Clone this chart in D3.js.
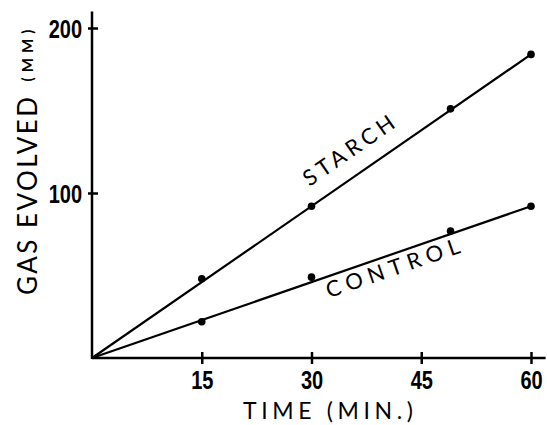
<!DOCTYPE html>
<html>
<head>
<meta charset="utf-8">
<script src="https://cdn.jsdelivr.net/npm/d3@7"></script>
<style>
  body { margin: 0; background: #fff; }
  svg { display: block; }
</style>
</head>
<body>
<div id="chart"></div>
<script>
// data
var times = [15, 30, 49, 60];
var starch = [48, 92, 151, 184];
var control = [22, 49, 77, 92];

// fitted lines, from origin to last reading
var starchFit = [[0, 0], [60, 184]];
var controlFit = [[0, 0], [60, 92]];

var xTicks = [15, 30, 45, 60];
var yTicks = [100, 200];

var svgWidth = 547;
var svgHeight = 425;

var svg = d3.select("#chart")
  .append("svg")
  .attr("width", svgWidth)
  .attr("height", svgHeight);

var xScale = d3.scaleLinear().domain([0, 60]).range([92, 531]);
var yScale = d3.scaleLinear().domain([0, 200]).range([358, 28]);

var tickFont = "'Liberation Sans', Arial, sans-serif";
var labelFont = "Lato, 'DejaVu Sans', sans-serif";

// axes
var xAxis = d3.axisBottom(xScale).tickValues(xTicks).tickSizeOuter(0).tickSize(0).tickPadding(0);
var yAxis = d3.axisLeft(yScale).tickValues(yTicks).tickSizeOuter(0).tickSize(0).tickPadding(0);

var gx = svg.append("g")
  .attr("transform", `translate(0, ${yScale(0)})`)
  .call(xAxis);
var gy = svg.append("g")
  .attr("transform", `translate(${xScale(0)}, 0)`)
  .call(yAxis);

[gx, gy].forEach(function(g) {
  g.select(".domain").remove();
});

// axis lines run a bit past the last tick
svg.append("line")
  .attr("x1", xScale(0)).attr("x2", xScale(62))
  .attr("y1", yScale(0)).attr("y2", yScale(0))
  .attr("stroke", "#000").attr("stroke-width", 2.5);
svg.append("line")
  .attr("x1", xScale(0)).attr("x2", xScale(0))
  .attr("y1", yScale(0) + 1).attr("y2", yScale(210))
  .attr("stroke", "#000").attr("stroke-width", 2.5);

// ticks cross the axis
gx.selectAll(".tick line")
  .attr("y1", -6).attr("y2", 6)
  .attr("stroke", "#000").attr("stroke-width", 2.5);
gy.selectAll(".tick line")
  .attr("x1", -4).attr("x2", 6)
  .attr("stroke", "#000").attr("stroke-width", 2.5);

// condensed bold tick labels
gx.selectAll(".tick text")
  .attr("y", 0)
  .attr("dy", 0)
  .attr("transform", "translate(0, 31) scale(0.8, 1)")
  .attr("font-family", tickFont)
  .attr("font-weight", "bold")
  .attr("font-size", "25px")
  .attr("fill", "#000");
gy.selectAll(".tick text")
  .attr("x", 0)
  .attr("dy", "0.36em")
  .attr("transform", "translate(-10, 0) scale(0.8, 1)")
  .attr("font-family", tickFont)
  .attr("font-weight", "bold")
  .attr("font-size", "25px")
  .attr("fill", "#000");

// fitted lines
var line = d3.line()
  .x(d => xScale(d[0]))
  .y(d => yScale(d[1]));

svg.append("path")
  .attr("d", line(starchFit))
  .attr("fill", "none")
  .attr("stroke", "#000")
  .attr("stroke-width", 2.2);
svg.append("path")
  .attr("d", line(controlFit))
  .attr("fill", "none")
  .attr("stroke", "#000")
  .attr("stroke-width", 2.2);

// points
svg.selectAll(".starchDot")
  .data(times)
  .enter()
  .append("circle")
  .attr("class", "starchDot")
  .attr("cx", d => xScale(d))
  .attr("cy", (d, i) => yScale(starch[i]))
  .attr("r", 3.8)
  .attr("fill", "#000");
svg.selectAll(".controlDot")
  .data(times)
  .enter()
  .append("circle")
  .attr("class", "controlDot")
  .attr("cx", d => xScale(d))
  .attr("cy", (d, i) => yScale(control[i]))
  .attr("r", 3.8)
  .attr("fill", "#000");

// line labels, rotated along each line
function lineLabel(fit, t, text, offset, len) {
  var p0 = fit[0], p1 = fit[1];
  var ang = Math.atan2(yScale(p1[1]) - yScale(p0[1]), xScale(p1[0]) - xScale(p0[0])) * 180 / Math.PI;
  var v = p0[1] + (p1[1] - p0[1]) * (t - p0[0]) / (p1[0] - p0[0]);
  svg.append("text")
    .attr("transform", `translate(${xScale(t)}, ${yScale(v)}) rotate(${ang})`)
    .attr("y", offset)
    .attr("text-anchor", "middle")
    .attr("font-family", labelFont)
    .attr("font-size", "22px")
    .attr("textLength", len)
    .attr("lengthAdjust", "spacing")
    .attr("fill", "#000")
    .text(text);
}
lineLabel(starchFit, 37, "STARCH", -17, 106);
lineLabel(controlFit, 40.5, "CONTROL", 21, 140);

// axis titles
svg.append("text")
  .attr("x", 328)
  .attr("y", 419)
  .attr("text-anchor", "middle")
  .attr("font-family", labelFont)
  .attr("font-size", "23px")
  .attr("textLength", 170)
  .attr("lengthAdjust", "spacing")
  .attr("fill", "#000")
  .text("TIME (MIN.)");

var yTitle = svg.append("text")
  .attr("transform", "translate(37, 295) rotate(-90)")
  .attr("text-anchor", "start")
  .attr("font-family", labelFont)
  .attr("fill", "#000");
yTitle.append("tspan")
  .attr("font-size", "26px")
  .attr("textLength", 198)
  .attr("lengthAdjust", "spacing")
  .text("GAS EVOLVED");
yTitle.append("tspan")
  .attr("dx", 13)
  .attr("dy", -4)
  .attr("font-size", "15px")
  .attr("font-weight", "bold")
  .attr("textLength", 52)
  .attr("lengthAdjust", "spacing")
  .text("(MM)");
</script>
</body>
</html>
